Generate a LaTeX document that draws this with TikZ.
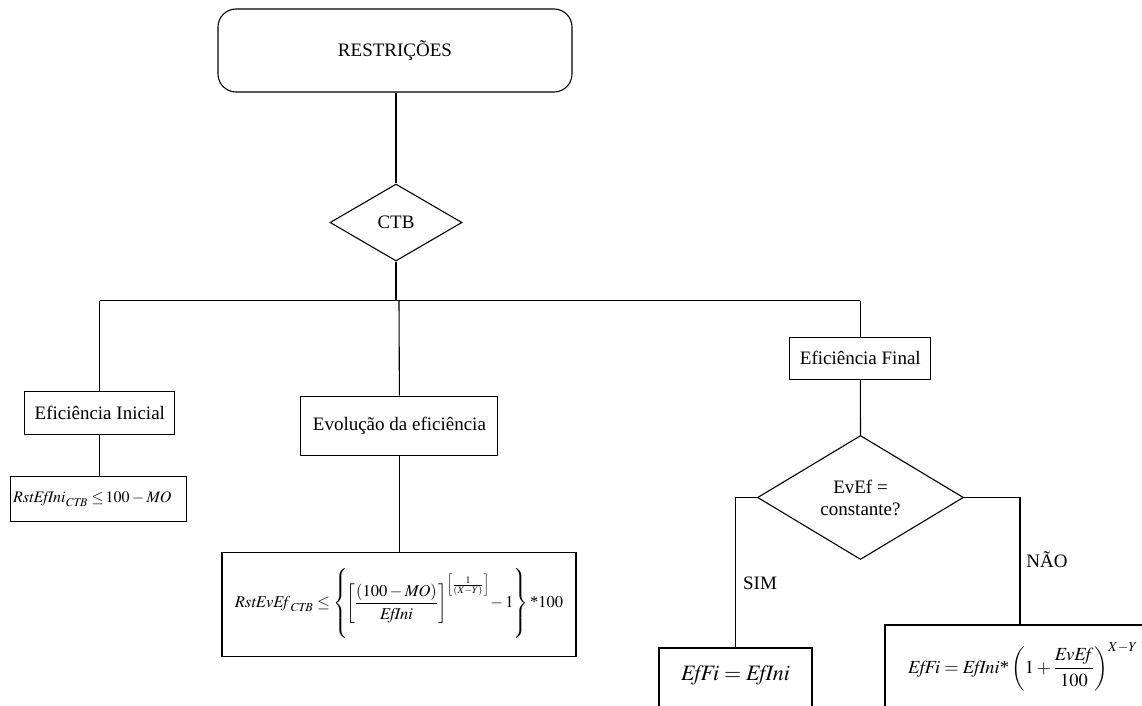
\documentclass[tikz,border=0pt]{standalone}
\usepackage{amsmath}
\usepackage{mathptmx}
\usepackage[no-math]{fontspec}
\setmainfont{Liberation Serif}
\usetikzlibrary{shapes.geometric}
\newcommand{\mi}[1]{\mathit{#1}}
\tikzset{
  ln/.style={line width=1.1pt, black},
  boxnode/.style={draw, line width=1.1pt, rectangle, inner sep=0pt, font=\fontsize{19}{22}\selectfont},
  decnode/.style={draw, line width=1.1pt, diamond, inner sep=0pt, align=center, font=\fontsize{19}{22}\selectfont},
  lbl/.style={font=\fontsize{19}{22}\selectfont, inner sep=0pt},
  fml/.style={inner sep=0pt}
}
\begin{document}
\begin{tikzpicture}[x=1pt,y=-1pt]
\useasboundingbox (0,0) rectangle (1142,706);
\clip (0,0) rectangle (1142,706);
% nodes
\node[boxnode, rounded corners=18pt, minimum width=354pt, minimum height=83pt] (top) at (395,50.5) {RESTRIÇÕES};
\node[decnode, aspect=1.71, minimum width=132pt, minimum height=77pt] (ctb) at (396,222.5) {CTB};
\coordinate (bar) at (396,300.7);
\node[boxnode, minimum width=150pt, minimum height=43pt] (ei) at (99.8,413.3) {Eficiência Inicial};
\node[boxnode, minimum width=176pt, minimum height=45pt] (f1) at (98.7,499.3) {};
\node[fml, anchor=west, font=\fontsize{16}{18}\selectfont] (f1t) at (13,499.3) {$\mi{RstEfIni}_{\mi{CTB}}\mathrel{\le}\!100-\mi{MO}$};
\node[boxnode, minimum width=197pt, minimum height=59pt] (ev) at (399.4,425.7) {Evolução da eficiência};
\node[boxnode, minimum width=354pt, minimum height=104pt, font=\fontsize{16.5}{19}\selectfont] (f2) at (399,604.8)
  {$\mi{RstEvEf}_{\mi{CTB}}\le\left\{\vrule height 2.2em depth 2.0em width 0pt\!\left[\dfrac{(100-\mi{MO})}{\mi{EfIni}}\right]^{\left[\frac{1}{(X-Y)}\right]}\!-1\right\}\mbox{*}100$};
\node[boxnode, minimum width=141pt, minimum height=42pt] (ef) at (860.3,358.3) {Eficiência Final};
\node[decnode, aspect=1.66, minimum width=206pt, minimum height=124pt] (dec) at (860.5,497.5) {EvEf =\\constante?};
\node[boxnode, minimum width=153pt, minimum height=80pt] (sim) at (735.5,688) {};
\node[fml, font=\fontsize{22}{25}\selectfont] (simt) at (735.5,675) {$\mi{EfFi} = \mi{EfIni}$};
\node[boxnode, minimum width=300pt, minimum height=110pt] (nao) at (1035,680) {};
\node[fml, anchor=west, font=\fontsize{18.5}{20}\selectfont] (naot) at (908,667) {$\mi{EfFi} = \mi{EfIni}\mbox{*}\left(1+\dfrac{\mi{EvEf}}{100}\right)^{X-Y}$};
\node[lbl] (simlbl) at (760,583) {SIM};
\node[lbl] (naolbl) at (1047,560) {NÃO};
% connectors
\draw[ln] (ctb.north |- top.south) -- (ctb.north);
\draw[ln] (ctb.south) -- (bar);
\draw[ln] (ei.north |- bar) -- (ef.north |- bar);
\draw[ln] (ei.north |- bar) -- (ei.north);
\draw[ln] (f2.north |- bar) -- (ev.north);
\draw[ln] (ef.north |- bar) -- (ef.north);
\draw[ln] (ei.south) -- (ei.south |- f1.north);
\draw[ln] (ev.south) -- (ev.south |- f2.north);
\draw[ln] (ef.south) -- (dec.north);
\draw[ln] (dec.west) -| (sim.north);
\coordinate (nj) at (1020,497.5);
\draw[ln] (dec.east) -- (nj) -- (nj |- nao.north);
\end{tikzpicture}
\end{document}
